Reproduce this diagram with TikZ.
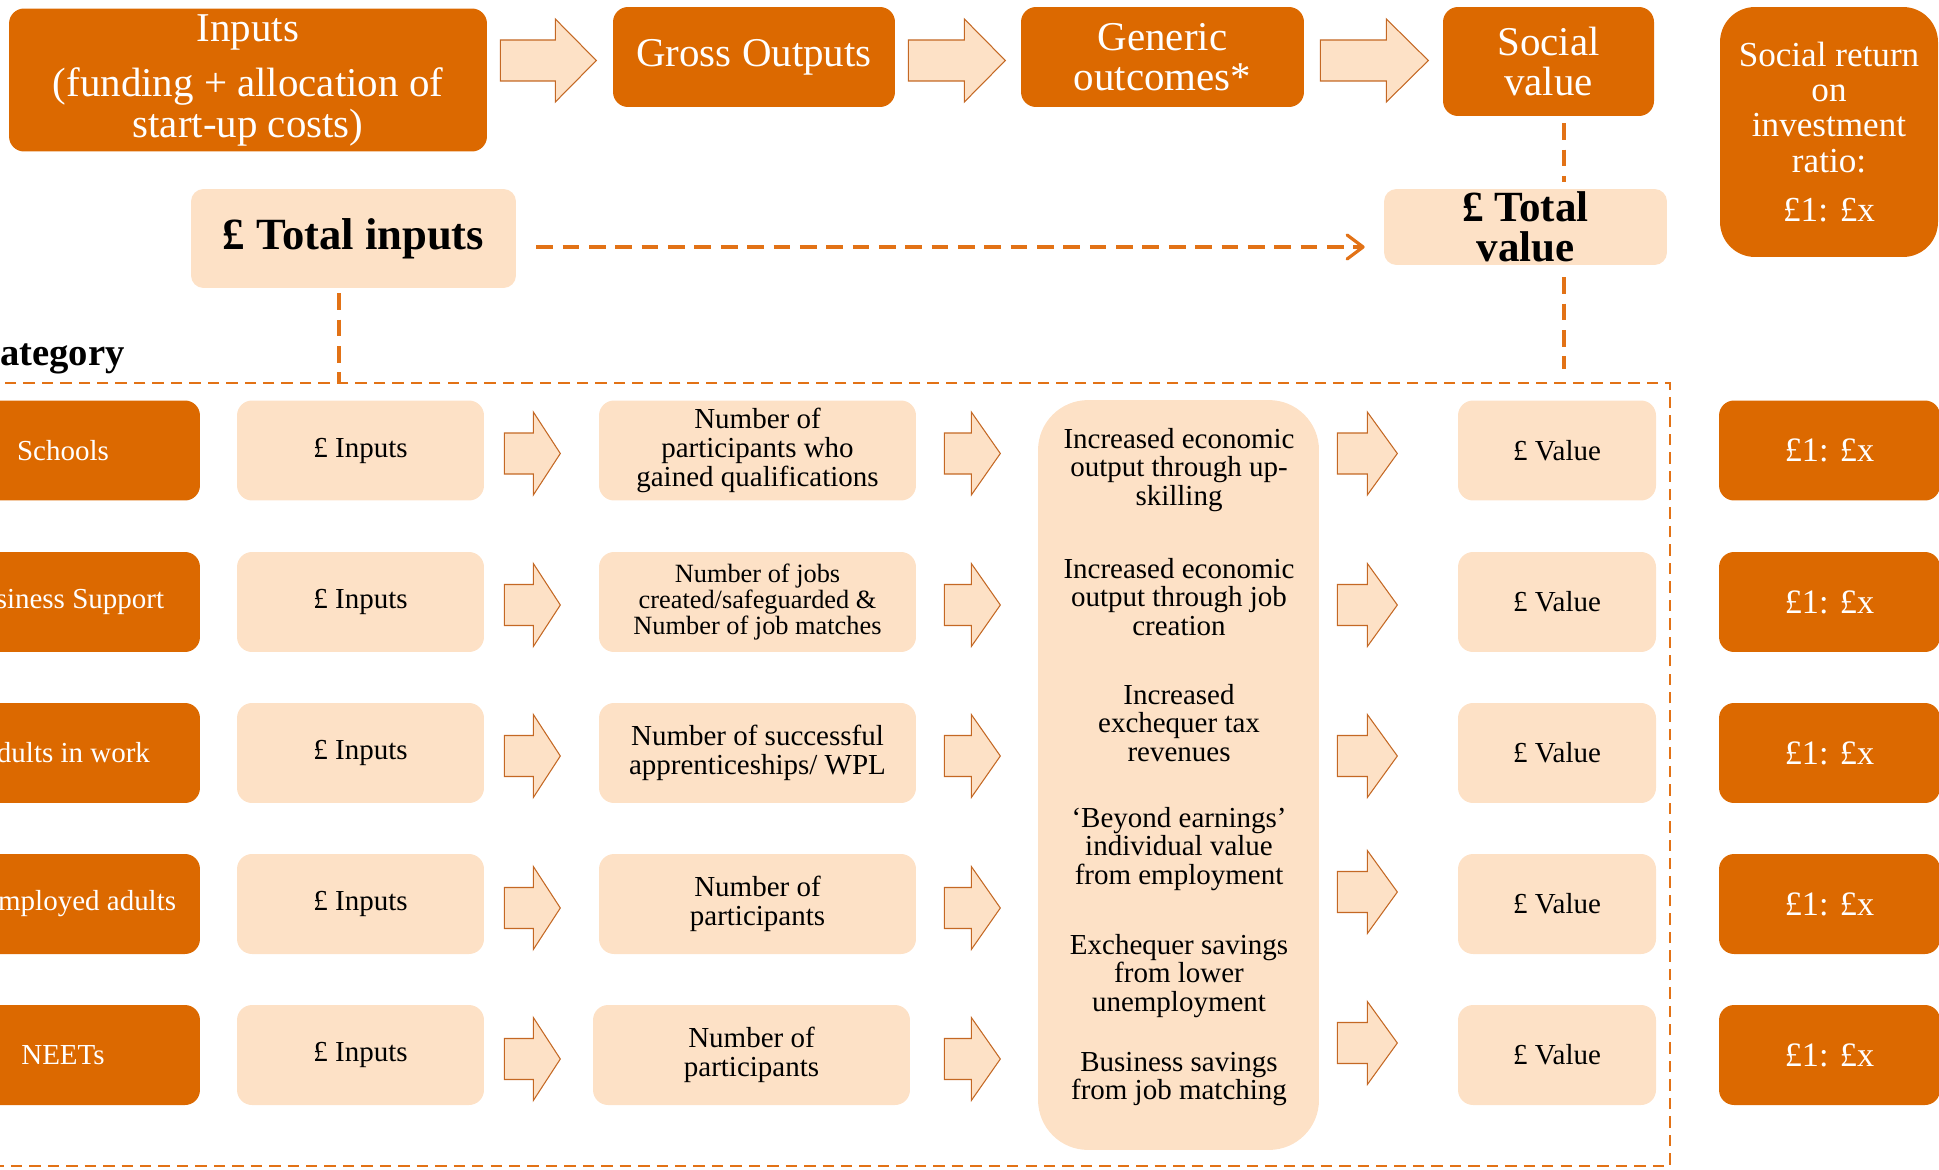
\documentclass[tikz,border=0pt]{standalone}
\usepackage{fontspec}
\setmainfont{Liberation Serif}
\usetikzlibrary{positioning, arrows.meta, calc}
\definecolor{sroiorange}{RGB}{220, 105, 0}
\definecolor{sroipeach}{RGB}{253, 225, 198}
\definecolor{arrowedge}{RGB}{196, 104, 36}
\definecolor{dashorange}{RGB}{226, 114, 22}
\newcommand{\rowfont}{\fontsize{16.5}{16.5}\selectfont}

\begin{document}
\begin{tikzpicture}[
    x=0.02cm, y=-0.02cm,
    headbox/.style={
      fill=sroiorange, rounded corners=0.3cm, align=center, text=white,
      font=\fontsize{23.3}{22.8}\selectfont, inner sep=0pt
    },
    totalbox/.style={
      fill=sroipeach, rounded corners=0.25cm, align=center,
      inner sep=0pt
    },
    catbox/.style={
      fill=sroiorange, rounded corners=0.3cm, text=white, font=\rowfont,
      minimum width=5.48cm, minimum height=2cm, inner sep=0pt
    },
    rowbox/.style={
      fill=sroipeach, rounded corners=0.3cm, align=center, font=\rowfont,
      minimum height=2cm, inner sep=0pt
    },
    ratiobox/.style={
      fill=sroiorange, rounded corners=0.3cm, text=white,
      font=\fontsize{19.5}{19.5}\selectfont,
      minimum width=4.42cm, minimum height=2cm, inner sep=0pt
    },
    outcome/.style={align=center, font=\fontsize{16.5}{16}\selectfont, inner sep=0pt},
    dashline/.style={dashorange, line width=1.8pt, dash pattern=on 9.5pt off 5.5pt},
    pics/fatarrow/.style 2 args={code={
      \draw[fill=sroipeach, draw=arrowedge, line width=0.6pt]
        (0,-20.5) -- (#1,-20.5) -- (#1,-41.5) -- (#2,0) -- (#1,41.5)
        -- (#1,20.5) -- (0,20.5) -- cycle;
    }},
]
    \useasboundingbox (0,0) rectangle (1939,1169);

    % Top chain
    \node[headbox, minimum width=9.56cm, minimum height=2.86cm] (inp) at (248,80)
      {Inputs\\[9pt](funding + allocation of\\start-up costs)};
    \node[headbox, minimum width=5.64cm, minimum height=2cm] (gross) at (754,57)
      {Gross Outputs};
    \node[headbox, minimum width=5.66cm, minimum height=2cm] (gen) at (1162.5,57)
      {Generic\\outcomes*};
    \node[headbox, minimum width=4.22cm, minimum height=2.18cm] (soc) at (1548.5,61.5)
      {Social\\value};
    \node[headbox, rounded corners=0.7cm, minimum width=4.36cm, minimum height=5cm,
      font=\fontsize{20}{20}\selectfont] (sroi) at (1829,132)
      {Social return\\on\\investment\\ratio:\\[8pt]£1: £x};

    \pic at ($(inp.east |- gross.east)+(13,3.5)$) {fatarrow={55}{96}};
    \pic at ($(gross.east)+(13,3.5)$) {fatarrow={56}{97}};
    \pic at ($(gen.east)+(16,3.5)$) {fatarrow={66}{108}};

    % Totals
    \node[totalbox, minimum width=6.5cm, minimum height=1.98cm,
      font=\fontsize{25.4}{25}\selectfont\bfseries] (tin) at (353.5,238.5)
      {£ Total inputs};
    \node[totalbox, minimum width=5.66cm, minimum height=1.52cm,
      font=\fontsize{24.5}{22.8}\selectfont\bfseries] (tval) at (1525.5,227)
      {£ Total\\value};

    % Category frame
    \node[draw=dashorange, line width=1.4pt, dash pattern=on 6.5pt off 4pt,
      minimum width=35.4cm, minimum height=15.66cm, inner sep=0pt] (frame) at (785,774.5) {};
    \node[font=\fontsize{22}{22}\selectfont\bfseries, anchor=base east, inner sep=0pt]
      (cattitle) at (125,365) {Category};

    % Dashed links
    \draw[dashline, -{Straight Barb[length=0.32cm, width=0.48cm, round]}]
      ($(tin.east)+(20,8.5)$) -- ($(tval.west |- tin.east)+(-19,8.5)$);
    \coordinate (tinfoot) at ($(tin.south)+(-14.5,5)$);
    \draw[dashline] (tinfoot) -- (tinfoot |- frame.north);
    \coordinate (socfoot) at ($(soc.south)+(15.5,7)$);
    \draw[dashline] (socfoot) -- ($(socfoot |- tval.north)+(0,-7)$);
    \coordinate (tvalfoot) at ($(tval.south -| socfoot)+(0,12)$);
    \draw[dashline] (tvalfoot) -- ($(tvalfoot |- frame.north)+(0,-13)$);

    % Shared outcomes column
    \node[rowbox, rounded corners=1cm, minimum width=5.62cm, minimum height=15cm]
      (outc) at (1178.5,775) {};
    \node[outcome] (oc1) at (1179,470) {Increased economic\\output through up-\\skilling};
    \node[outcome] (oc2) at (1179,597) {Increased economic\\output through job\\creation};
    \node[outcome] (oc3) at (1179,723) {Increased\\exchequer tax\\revenues};
    \node[outcome] (oc4) at (1179,849) {‘Beyond earnings’\\individual value\\from employment};
    \node[outcome] (oc5) at (1179,976) {Exchequer savings\\from lower\\unemployment};
    \node[outcome] (oc6) at (1179,1079) {Business savings\\from job matching};

    % Row 1
    \node[catbox] (cat1) at (63,450.5) {Schools};
    \node[rowbox, minimum width=4.94cm] (in1) at (360.5,450.5) {£ Inputs};
    \node[rowbox, minimum width=6.34cm] (out1) at (757.5,450.5)
      {Number of\\participants who\\gained qualifications};
    \node[rowbox, minimum width=3.96cm] (val1) at (1557,450.5) {£ Value};
    \node[ratiobox] (roi1) at (1829.5,450.5) {£1: £x};
    \pic at ($(in1.east)+(20,3)$) {fatarrow={29}{56}};
    \pic at ($(out1.east)+(28,3)$) {fatarrow={27}{56}};
    \pic at ($(outc.east |- in1.east)+(18,3)$) {fatarrow={30}{60}};

    % Row 2
    \node[catbox] (cat2) at (63,602) {Business Support};
    \node[rowbox, minimum width=4.94cm] (in2) at (360.5,602) {£ Inputs};
    \node[rowbox, minimum width=6.34cm, font=\fontsize{15}{14.8}\selectfont] (out2) at (757.5,602)
      {Number of jobs\\created/safeguarded \&\\Number of job matches};
    \node[rowbox, minimum width=3.96cm] (val2) at (1557,602) {£ Value};
    \node[ratiobox] (roi2) at (1829.5,602) {£1: £x};
    \pic at ($(in2.east)+(20,3)$) {fatarrow={29}{56}};
    \pic at ($(out2.east)+(28,3)$) {fatarrow={27}{56}};
    \pic at ($(outc.east |- in2.east)+(18,3)$) {fatarrow={30}{60}};

    % Row 3
    \node[catbox] (cat3) at (63,753) {Adults in work};
    \node[rowbox, minimum width=4.94cm] (in3) at (360.5,753) {£ Inputs};
    \node[rowbox, minimum width=6.34cm] (out3) at (757.5,753)
      {Number of successful\\apprenticeships/ WPL};
    \node[rowbox, minimum width=3.96cm] (val3) at (1557,753) {£ Value};
    \node[ratiobox] (roi3) at (1829.5,753) {£1: £x};
    \pic at ($(in3.east)+(20,3)$) {fatarrow={29}{56}};
    \pic at ($(out3.east)+(28,3)$) {fatarrow={27}{56}};
    \pic at ($(outc.east |- in3.east)+(18,3)$) {fatarrow={30}{60}};

    % Row 4
    \node[catbox] (cat4) at (63,904) {Unemployed adults};
    \node[rowbox, minimum width=4.94cm] (in4) at (360.5,904) {£ Inputs};
    \node[rowbox, minimum width=6.34cm] (out4) at (757.5,904)
      {Number of\\participants};
    \node[rowbox, minimum width=3.96cm] (val4) at (1557,904) {£ Value};
    \node[ratiobox] (roi4) at (1829.5,904) {£1: £x};
    \pic at ($(in4.east)+(20,4)$) {fatarrow={29}{56}};
    \pic at ($(out4.east)+(28,4)$) {fatarrow={27}{56}};
    \pic at ($(outc.east |- in4.east)+(18,-12)$) {fatarrow={30}{60}};

    % Row 5
    \node[catbox] (cat5) at (63,1055) {NEETs};
    \node[rowbox, minimum width=4.94cm] (in5) at (360.5,1055) {£ Inputs};
    \node[rowbox, minimum width=6.34cm] (out5) at (751.5,1055)
      {Number of\\participants};
    \node[rowbox, minimum width=3.96cm] (val5) at (1557,1055) {£ Value};
    \node[ratiobox] (roi5) at (1829.5,1055) {£1: £x};
    \pic at ($(in5.east)+(20,4)$) {fatarrow={29}{56}};
    \pic at ($(out5.east)+(34,4)$) {fatarrow={27}{56}};
    \pic at ($(outc.east |- in5.east)+(18,-12)$) {fatarrow={30}{60}};
\end{tikzpicture}
\end{document}
